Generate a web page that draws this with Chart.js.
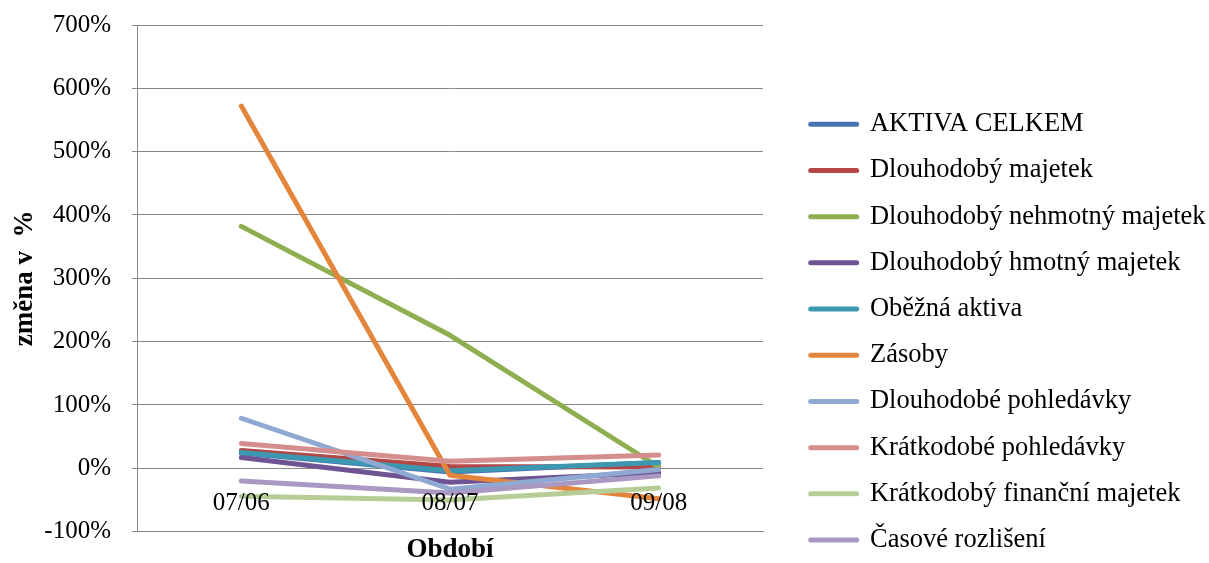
<!DOCTYPE html>
<html>
<head>
<meta charset="utf-8">
<script src="https://cdn.jsdelivr.net/npm/chart.js@4.4.1/dist/chart.umd.min.js"></script>
<style>
  html, body { margin: 0; padding: 0; background: #ffffff; }
  #wrap { width: 1209px; height: 563px; position: relative; }
</style>
</head>
<body>
<div id="wrap"><canvas id="c"></canvas></div>
<script>
const categories = ['07/06', '08/07', '09/08'];
const seriesNames = [
  'AKTIVA CELKEM',
  'Dlouhodobý majetek',
  'Dlouhodobý nehmotný majetek',
  'Dlouhodobý hmotný majetek',
  'Oběžná aktiva',
  'Zásoby',
  'Dlouhodobé pohledávky',
  'Krátkodobé pohledávky',
  'Krátkodobý finanční majetek',
  'Časové rozlišení'
];
const aktivaCelkem = [24, -6, 9];
const dlouhodobyMajetek = [28, 3, 2];
const dlouhodobyNehmotny = [382, 210, 2];
const dlouhodobyHmotny = [17, -22, -7];
const obeznaAktiva = [25, -4, 9];
const zasoby = [572, -11, -48];
const dlouhodobePohledavky = [79, -33, -2];
const kratkodobePohledavky = [39, 11, 21];
const kratkodobyFinancni = [-44, -50, -31];
const casoveRozliseni = [-20, -39, -12];
const yTicks = [-100, 0, 100, 200, 300, 400, 500, 600, 700];
const yTitle = 'změna v  %';
const xTitle = 'Období';

const seriesValues = [aktivaCelkem, dlouhodobyMajetek, dlouhodobyNehmotny, dlouhodobyHmotny,
  obeznaAktiva, zasoby, dlouhodobePohledavky, kratkodobePohledavky, kratkodobyFinancni, casoveRozliseni];
const colors = ['#4675B1', '#B34745', '#8EAF50', '#6E5493', '#3C98B1', '#E3853B',
  '#8FA9D2', '#D48E8D', '#B6CE96', '#A898C2'];

const FONT = "'Liberation Serif', 'Times New Roman', serif";

const datasets = seriesNames.map((name, i) => ({
  label: name,
  data: seriesValues[i],
  borderColor: colors[i],
  backgroundColor: colors[i],
  borderWidth: 5,
  borderCapStyle: 'round',
  borderJoinStyle: 'round',
  pointRadius: 0,
  pointHoverRadius: 0,
  tension: 0,
  fill: false,
  order: seriesNames.length - i
}));

const zeroLabels = {
  id: 'zeroLabels',
  afterDatasetsDraw(chart) {
    const xs = chart.scales.x, ys = chart.scales.y;
    const ctx = chart.ctx;
    const y0 = ys.getPixelForValue(0);
    ctx.save();
    ctx.font = "25px " + FONT;
    ctx.fillStyle = '#000000';
    ctx.textAlign = 'center';
    ctx.textBaseline = 'middle';
    categories.forEach((c, i) => {
      ctx.fillText(c, xs.getPixelForValue(i), y0 + 35);
    });
    ctx.restore();
  }
};

new Chart(document.getElementById('c'), {
  type: 'line',
  data: { labels: categories, datasets },
  plugins: [zeroLabels],
  options: {
    responsive: true,
    maintainAspectRatio: false,
    animation: false,
    events: [],
    layout: { padding: { top: 25, left: 0, right: 0, bottom: -10 } },
    plugins: {
      tooltip: { enabled: false },
      legend: {
        position: 'right',
        align: 'end',
        maxWidth: 418,
        labels: {
          boxWidth: 46,
          boxHeight: 0,
          padding: 19.7,
          color: '#000000',
          font: { family: FONT, size: 26.5 },
          sort: (a, b) => a.datasetIndex - b.datasetIndex
        }
      }
    },
    scales: {
      x: {
        type: 'category',
        offset: true,
        grid: { display: false, drawTicks: false },
        border: { display: true, color: '#888888', width: 1 },
        ticks: { display: false },
        title: {
          display: true, text: xTitle, color: '#000000',
          font: { family: FONT, size: 27, weight: 'bold' },
          padding: { top: 2, bottom: 7 }
        }
      },
      y: {
        min: -100, max: 700,
        afterBuildTicks: s => { s.ticks = yTicks.map(v => ({ value: v })); },
        afterFit: s => { s.width = 137; s.paddingTop = 0; s.paddingBottom = 0; },
        grid: { color: '#888888', lineWidth: 1, tickLength: 5, drawTicks: true },
        border: { display: true, color: '#888888', width: 1 },
        ticks: {
          padding: 21,
          color: '#000000',
          font: { family: FONT, size: 25 },
          callback: v => v + '%'
        },
        title: {
          display: true, text: yTitle, color: '#000000',
          font: { family: FONT, size: 27, weight: 'bold' },
          padding: { top: 9, bottom: 0 }
        }
      },
      yR: {
        type: 'linear',
        position: 'right',
        display: true,
        grid: { display: false, drawTicks: false },
        border: { display: false },
        ticks: { display: false },
        afterFit: s => { s.width = 28; s.paddingTop = 0; s.paddingBottom = 0; }
      }
    }
  }
});
</script>
</body>
</html>
